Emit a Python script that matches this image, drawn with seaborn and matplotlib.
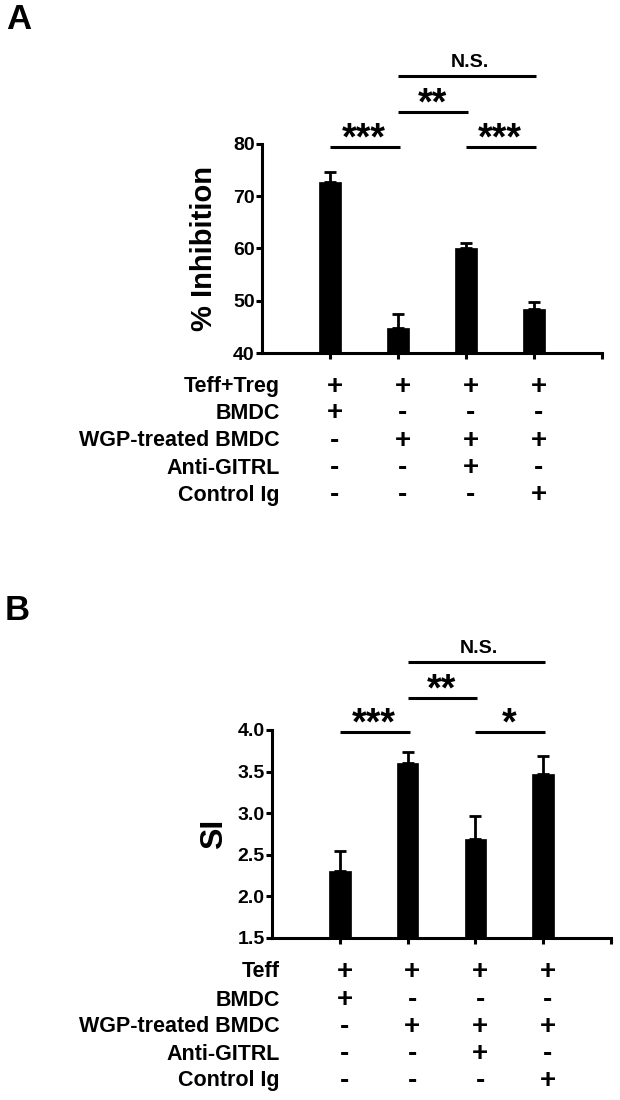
import numpy as np
import pandas as pd
import matplotlib
matplotlib.use("Agg")
import matplotlib.pyplot as plt
import seaborn as sns
from matplotlib.transforms import blended_transform_factory

# ---------------- data ----------------
conditions = ["G1", "G2", "G3", "G4"]
inhibition = [72.8, 44.8, 60.0, 48.4]
inhibition_err = [1.9, 2.6, 1.1, 1.4]
si_values = [2.30, 3.60, 2.69, 3.47]
si_err = [0.25, 0.14, 0.28, 0.22]

rows_a = ["Teff+Treg", "BMDC", "WGP-treated BMDC", "Anti-GITRL", "Control Ig"]
rows_b = ["Teff", "BMDC", "WGP-treated BMDC", "Anti-GITRL", "Control Ig"]
signs = [["+", "+", "+", "+"],
         ["+", "-", "-", "-"],
         ["-", "+", "+", "+"],
         ["-", "-", "+", "-"],
         ["-", "-", "-", "+"]]

comparisons = [(0, 1), (1, 2), (1, 3), (2, 3)]
labels_a = ["***", "**", "N.S.", "***"]
levels_a = [79.5, 86.2, 93.1, 79.5]
labels_b = ["***", "**", "N.S.", "*"]
levels_b = [3.98, 4.39, 4.82, 3.98]

yticks_a = [40, 50, 60, 70, 80]
yticks_b = [1.5, 2.0, 2.5, 3.0, 3.5, 4.0]

# ---------------- style ----------------
sns.set_theme(style="ticks")
plt.rcParams["font.family"] = ["Liberation Sans", "DejaVu Sans"]
plt.rcParams["font.weight"] = "bold"
plt.rcParams["text.color"] = "black"
plt.rcParams["axes.labelcolor"] = "black"
plt.rcParams["xtick.color"] = "black"
plt.rcParams["ytick.color"] = "black"
plt.rcParams["axes.edgecolor"] = "black"

W, H = 620, 1100
fig = plt.figure(figsize=(W / 100, H / 100), dpi=100)
fig.patch.set_facecolor("white")


def px_axes(l, t, r, b):
    return fig.add_axes([l / W, 1 - b / H, (r - l) / W, (b - t) / H])


def draw_panel(ax, vals, errs, ylim, yticks, fmt, ylabel, ylabel_size,
               labels, levels, rows, row_y_px):
    df = pd.DataFrame({"cond": conditions, "val": vals})
    sns.barplot(data=df, x="cond", y="val", color="black", width=0.32,
                saturation=1, errorbar=None, ax=ax, edgecolor="black",
                linewidth=0.5)
    pos = np.arange(len(vals))
    ax.errorbar(pos, vals, yerr=[np.zeros(len(vals)), errs], fmt="none",
                ecolor="black", elinewidth=2.0, capsize=4.3, capthick=2.0,
                zorder=3)
    ax.set_xlim(-1, len(vals))
    ax.set_xticks(list(range(len(vals) + 1)))
    ax.set_xticklabels([])
    ax.set_ylim(*ylim)
    ax.set_yticks(yticks)
    ax.set_yticklabels([fmt.format(v) for v in yticks], fontsize=14,
                       fontweight="bold", color="black")
    ax.set_xlabel("")
    ax.set_ylabel("")
    for s in ["top", "right"]:
        ax.spines[s].set_visible(False)
    for s in ["left", "bottom"]:
        ax.spines[s].set_linewidth(2.2)
        ax.spines[s].set_color("black")
    ax.tick_params(axis="both", direction="out", length=4.3, width=2.2,
                   color="black", pad=1)
    ax.set_facecolor("white")
    ax.text(-0.17, 0.5, ylabel, transform=ax.transAxes, rotation=90,
            ha="center", va="center", fontsize=ylabel_size,
            fontweight="bold", color="black")

    # significance brackets
    for (i, j), lab, lvl in zip(comparisons, labels, levels):
        ax.plot([i, j + 0.03], [lvl, lvl], color="black", lw=2.2,
                clip_on=False, solid_capstyle="butt")
        if lab == "N.S.":
            ax.annotate(lab, xy=((i + j) / 2 + 0.05, lvl), xytext=(0, 6.5),
                        textcoords="offset points", ha="center",
                        va="baseline", fontsize=14, fontweight="bold",
                        annotation_clip=False, color="black")
        else:
            ax.annotate(lab, xy=((i + j) / 2, lvl), xytext=(0, -2.0),
                        textcoords="offset points", ha="center",
                        va="baseline", fontsize=27, fontweight="bold",
                        annotation_clip=False, color="black")

    # condition table
    tr = blended_transform_factory(ax.transData, fig.transFigure)
    for r, (name, ypx) in enumerate(zip(rows, row_y_px)):
        fy = 1 - ypx / H
        fig.text(280 / W, fy, name, ha="right", va="center", fontsize=15.5,
                 fontweight="bold", color="black")
        for c in range(len(vals)):
            ax.text(c + 0.07, fy, signs[r][c], transform=tr, ha="center",
                    va="center", fontsize=20, fontweight="bold",
                    color="black")


axA = px_axes(262, 144, 602, 353)
draw_panel(axA, inhibition, inhibition_err, (40, 80), yticks_a, "{:.0f}",
           "% Inhibition", 21, labels_a, levels_a, rows_a,
           [386.7, 413.3, 440.7, 468.3, 495.0])

axB = px_axes(272, 730, 611, 938)
draw_panel(axB, si_values, si_err, (1.5, 4.0), yticks_b, "{:.1f}",
           "SI", 23, labels_b, levels_b, rows_b,
           [971.7, 1000.0, 1026.7, 1054.0, 1080.7])

fig.text(6 / W, 1 - 19.5 / H, "A", ha="left", va="center", fontsize=25,
         fontweight="bold", color="black")
fig.text(5 / W, 1 - 610 / H, "B", ha="left", va="center", fontsize=25,
         fontweight="bold", color="black")

fig.savefig("out.png", dpi=100, facecolor="white")
